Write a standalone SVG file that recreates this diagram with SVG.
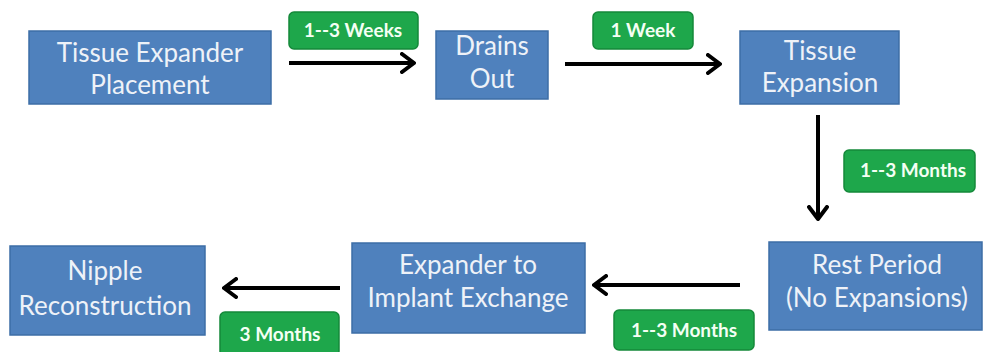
<svg xmlns="http://www.w3.org/2000/svg" width="984" height="352" viewBox="0 0 984 352">
<style>
.box{fill:#4f81bd;stroke:#3d6ea6;stroke-width:1.5}
.bt{font-family:Lato,"Liberation Sans",sans-serif;font-size:26px;fill:#eef2f8;text-anchor:middle}
.badge{fill:#1ea74b;stroke:#15893a;stroke-width:1.5}
.gt{font-family:Lato,"Liberation Sans",sans-serif;font-size:19px;font-weight:bold;fill:#f4fff4;text-anchor:middle}
.conn{stroke:#000;stroke-width:4;fill:none}
</style>
<defs>
<marker id="ah" markerUnits="userSpaceOnUse" viewBox="0 0 16 22" refX="14" refY="11" markerWidth="16" markerHeight="22" orient="auto">
<path d="M2,2 L14,11 L2,20" fill="none" stroke="#000" stroke-width="4" stroke-linecap="round" stroke-linejoin="round"/>
</marker>
</defs>
<rect width="984" height="352" fill="#fff"/>
<g id="connectors">
<line class="conn" x1="289" y1="63" x2="414" y2="63" marker-end="url(#ah)"/>
<line class="conn" x1="565" y1="64" x2="720" y2="64" marker-end="url(#ah)"/>
<line class="conn" x1="818" y1="115" x2="818" y2="219" marker-end="url(#ah)"/>
<line class="conn" x1="740" y1="285" x2="594" y2="285" marker-end="url(#ah)"/>
<line class="conn" x1="340" y1="288" x2="224" y2="288" marker-end="url(#ah)"/>
</g>
<g id="n1"><rect class="box" x="29" y="31" width="242" height="73"/><text class="bt" x="150" y="62">Tissue Expander</text><text class="bt" x="150" y="94">Placement</text></g>
<g id="n2"><rect class="box" x="436" y="31" width="112" height="68"/><text class="bt" x="492" y="55">Drains</text><text class="bt" x="492" y="88">Out</text></g>
<g id="n3"><rect class="box" x="740" y="31" width="159" height="73"/><text class="bt" x="820" y="60">Tissue</text><text class="bt" x="820" y="92">Expansion</text></g>
<g id="n4"><rect class="box" x="769" y="242" width="213" height="88"/><text class="bt" x="877" y="274">Rest Period</text><text class="bt" x="877" y="307">(No Expansions)</text></g>
<g id="n5"><rect class="box" x="352" y="243" width="233" height="90"/><text class="bt" x="468" y="274">Expander to</text><text class="bt" x="468" y="307">Implant Exchange</text></g>
<g id="n6"><rect class="box" x="10" y="246" width="195" height="89"/><text class="bt" x="105" y="280">Nipple</text><text class="bt" x="105" y="315">Reconstruction</text></g>
<g id="b1"><rect class="badge" x="289" y="12" width="129" height="37" rx="5"/><text class="gt" x="353" y="37">1--3 Weeks</text></g>
<g id="b2"><rect class="badge" x="593" y="12" width="100" height="37" rx="5"/><text class="gt" x="643" y="37">1 Week</text></g>
<g id="b3"><rect class="badge" x="844" y="150" width="131" height="42" rx="5"/><text class="gt" x="913" y="177">1--3 Months</text></g>
<g id="b4"><rect class="badge" x="614" y="310" width="140" height="40" rx="5"/><text class="gt" x="684" y="337">1--3 Months</text></g>
<g id="b5"><rect class="badge" x="220" y="312" width="119" height="44" rx="5"/><text class="gt" x="280" y="341">3 Months</text></g>
</svg>
